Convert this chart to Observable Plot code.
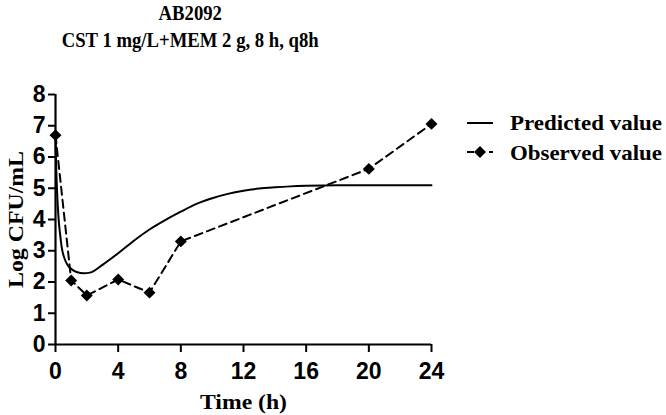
<!DOCTYPE html>
<html>
<head>
<meta charset="utf-8">
<script src="https://cdn.jsdelivr.net/npm/d3@7"></script>
<script src="https://cdn.jsdelivr.net/npm/@observablehq/plot@0.6"></script>
<style>
  html, body { margin: 0; padding: 0; background: #fff; }
  #wrap { position: relative; width: 666px; height: 415px; overflow: hidden; }
  #title { position: relative; height: 58px; }
  #title .t { position: absolute; left: 0; width: 380px; text-align: center;
    font-family: "Liberation Serif", "Times New Roman", serif; font-weight: bold; font-size: 22px; line-height: 25px; color: #000; }
  #title .t span { display: inline-block; transform: scaleX(0.85); transform-origin: center; white-space: nowrap; }
  #legend { position: absolute; left: 460px; top: 105px; }
  svg { display: block; }
</style>
</head>
<body>
<div id="wrap">
  <div id="title">
    <div class="t" style="top:0px"><span>AB2092</span></div>
    <div class="t" style="top:27px"><span>CST 1 mg/L+MEM 2 g, 8 h, q8h</span></div>
  </div>
  <div id="chart"></div>
  <svg id="legend" width="206" height="60" font-family="Liberation Serif, Times New Roman, serif" font-weight="bold" font-size="22">
    <line x1="7" x2="33" y1="18" y2="18" stroke="#000" stroke-width="2"></line>
    <text x="50" y="25" textLength="152" lengthAdjust="spacingAndGlyphs">Predicted value</text>
    <line x1="7" x2="33" y1="47" y2="47" stroke="#000" stroke-width="2" stroke-dasharray="7,4"></line>
    <path d="M20,41L26,47L20,53L14,47Z" fill="#000"></path>
    <text x="50" y="54.5" textLength="152" lengthAdjust="spacingAndGlyphs">Observed value</text>
  </svg>
</div>
<script>
// Observed data
const obsTime = [0, 1, 2, 4, 6, 8, 20, 24];
const obsLog = [6.7, 2.05, 1.57, 2.08, 1.66, 3.3, 5.62, 7.06];

// Predicted (model) curve
const predTime = [0, 0.05, 0.1, 0.2, 0.3, 0.4, 0.6, 0.8, 1.0, 1.4, 1.8, 2.2, 3, 4, 5, 6, 7, 8, 9, 10, 11, 12, 13, 14, 15, 16, 18, 20, 22, 24];
const predLog = [6.7, 5.6, 4.9, 4.0, 3.5, 3.1, 2.72, 2.52, 2.42, 2.31, 2.28, 2.3, 2.55, 2.92, 3.32, 3.68, 3.98, 4.25, 4.5, 4.68, 4.82, 4.92, 4.99, 5.03, 5.06, 5.08, 5.1, 5.1, 5.1, 5.1];

// Axis ticks
const xTicks = [0, 4, 8, 12, 16, 20, 24];
const yTicks = [0, 1, 2, 3, 4, 5, 6, 7, 8];

const xLabel = "Time (h)";
const yLabel = "Log CFU/mL";

const observed = obsTime.map((t, i) => ({t, v: obsLog[i]}));
const predicted = predTime.map((t, i) => ({t, v: predLog[i]}));

const sans = "Liberation Sans, Arial, sans-serif";
const serif = "Liberation Serif, Times New Roman, serif";

const chart = Plot.plot({
  width: 666,
  height: 357,
  marginTop: 36,
  marginBottom: 71,
  marginLeft: 55,
  marginRight: 235,
  x: {domain: [0, 24]},
  y: {domain: [0, 8]},
  style: {background: "white", color: "black", overflow: "visible"},
  marks: [
    Plot.axisX({ticks: xTicks, tickSize: 8, tickPadding: 10, strokeWidth: 2, label: null,
      fontFamily: sans, fontSize: 23, fontWeight: "bold", tickFormat: d => String(d)}),
    Plot.axisY({ticks: yTicks, tickSize: 7, tickPadding: 3, strokeWidth: 2, label: null,
      fontFamily: sans, fontSize: 23, fontWeight: "bold", tickFormat: d => String(d)}),
    Plot.ruleX([0], {strokeWidth: 2.2}),
    Plot.ruleY([0], {strokeWidth: 2.2}),
    Plot.line(predicted, {x: "t", y: "v", stroke: "black", strokeWidth: 2, curve: "monotone-x"}),
    Plot.line(observed, {x: "t", y: "v", stroke: "black", strokeWidth: 2, strokeDasharray: "8,5"}),
    Plot.dot(observed, {x: "t", y: "v", symbol: "diamond2", r: 5.4, fill: "black", stroke: "none"}),
    Plot.text([xLabel], {frameAnchor: "bottom", lineAnchor: "middle", textAnchor: "middle", dy: 57,
      fontFamily: serif, fontSize: 22, fontWeight: "bold", text: d => d}),
    Plot.text([yLabel], {frameAnchor: "left", lineAnchor: "middle", textAnchor: "middle", dx: -40, rotate: -90,
      fontFamily: serif, fontSize: 22, fontWeight: "bold", text: d => d})
  ]
});
// match the label widths of the reference
d3.select(chart).selectAll("text").each(function () {
  const s = this.textContent;
  if (s === xLabel) d3.select(this).attr("textLength", 87).attr("lengthAdjust", "spacingAndGlyphs");
  if (s === yLabel) d3.select(this).attr("textLength", 137).attr("lengthAdjust", "spacingAndGlyphs");
});
document.getElementById("chart").appendChild(chart);
</script>
</body>
</html>
